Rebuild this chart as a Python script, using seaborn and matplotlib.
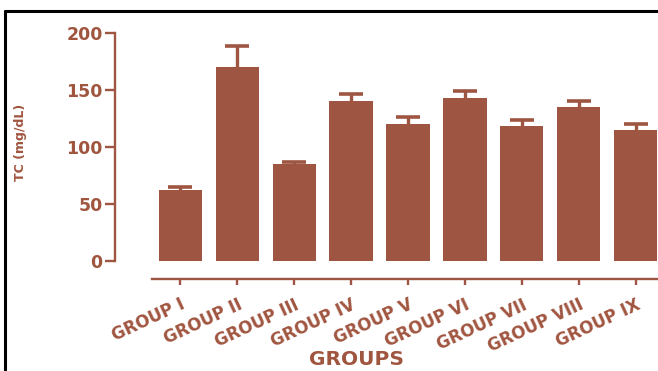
import matplotlib
matplotlib.use('Agg')
import matplotlib.pyplot as plt
import numpy as np
import pandas as pd
import seaborn as sns
from matplotlib.lines import Line2D

# values
groups = ['GROUP I', 'GROUP II', 'GROUP III', 'GROUP IV', 'GROUP V',
          'GROUP VI', 'GROUP VII', 'GROUP VIII', 'GROUP IX']
tc_mean = [62, 170, 85, 140, 120, 143, 118, 135, 115]
tc_err = [3, 19, 1.5, 6.5, 6, 6.5, 6, 5.5, 5]
y_ticks = [0, 50, 100, 150, 200]

bar_col = '#9e5642'
txt_col = '#a0553f'

sns.set_style('ticks')
plt.rcParams['font.family'] = ['DejaVu Sans']
plt.rcParams['font.weight'] = 'bold'

df = pd.DataFrame({'group': groups, 'tc': tc_mean, 'err': tc_err})

W, H = 658, 371
fig = plt.figure(figsize=(W / 100, H / 100), dpi=100)
fig.patch.set_facecolor('white')

# axes placed in pixels (right side runs past the picture edge, like the crop)
ax = fig.add_axes([152 / W, 110 / H, 512 / W, 228 / H])
ax.set_facecolor('none')

sns.barplot(data=df, x='group', y='tc', color=bar_col, saturation=1,
            width=0.76, errorbar=None, linewidth=0, ax=ax, zorder=3)
# symmetric error bars, lower half hidden behind the bars
ax.errorbar(np.arange(len(groups)), df['tc'], yerr=df['err'],
            fmt='none', ecolor=bar_col, elinewidth=2.4, capsize=8.5,
            capthick=2.6, zorder=2)

ax.set_xlim(-0.5, 8.5)
ax.set_ylim(0, 200)
ax.set_yticks(y_ticks)

# prism-like detached spines
sns.despine(ax=ax)
ax.spines['left'].set_position(('outward', 26.5))
ax.spines['bottom'].set_position(('outward', 13))
ax.spines['left'].set_bounds(0, 200)
for side in ['left', 'bottom']:
    ax.spines[side].set_color(bar_col)
    ax.spines[side].set_linewidth(1.7)

ax.tick_params(axis='y', length=7, width=1.7, color=bar_col,
               labelcolor=txt_col, labelsize=12.5, pad=2)
ax.tick_params(axis='x', length=4, width=1.7, color=bar_col,
               labelcolor=txt_col, labelsize=12, pad=8)
for lab in ax.get_xticklabels():
    lab.set_rotation(25)
    lab.set_ha('right')
    lab.set_va('top')
    lab.set_rotation_mode('anchor')
    lab.set_fontweight('bold')
for lab in ax.get_yticklabels():
    lab.set_fontweight('bold')

ax.set_xlabel('GROUPS', color=txt_col, fontsize=14.5, fontweight='bold',
              va='center', ha='center')
ax.xaxis.set_label_coords(0.40, -0.43)
ax.set_ylabel('TC (mg/dL)', color=txt_col, fontsize=9, fontweight='bold',
              va='center', ha='center')
ax.yaxis.set_label_coords(-0.256, 0.522)

# black frame lines at top and left of the crop
fig.add_artist(Line2D([5 / W, 1], [1 - 11 / H, 1 - 11 / H],
                      transform=fig.transFigure, color='black', lw=2.2))
fig.add_artist(Line2D([5 / W, 5 / W], [0, 1 - 11 / H],
                      transform=fig.transFigure, color='black', lw=2.2))

fig.savefig('out.png', dpi=100)
